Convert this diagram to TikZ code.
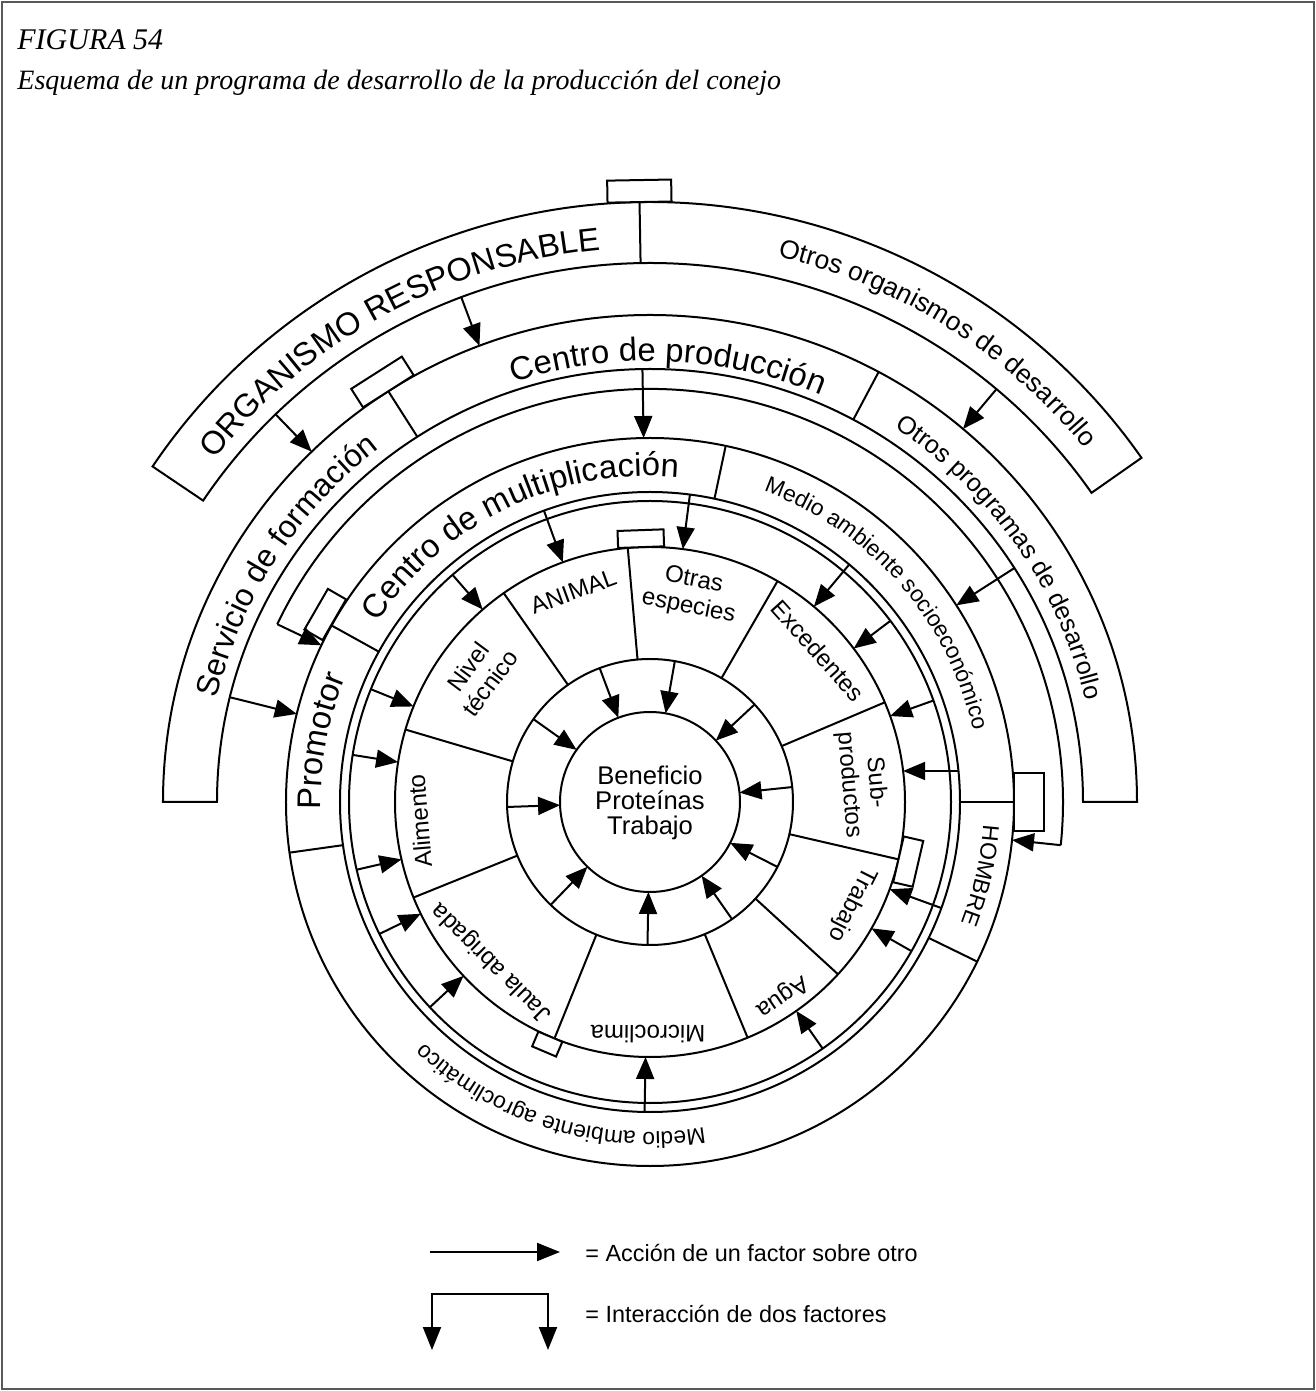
\documentclass[tikz,border=0pt]{standalone}
\usepackage{fontspec}
\setmainfont{Liberation Serif}
\setsansfont{Liberation Sans}
\usetikzlibrary{arrows.meta,decorations.text}
\tikzset{
  ln/.style={line width=1pt,black},
  arr/.style={line width=1pt,-{Triangle[length=11pt,width=9pt]}},
  legarr/.style={line width=1pt,-{Triangle[length=11.5pt,width=9pt]}},
  ibox/.style={draw,line width=1pt,fill=white,inner sep=0pt},
  sect/.style={font=\sffamily\fontsize{12pt}{13.5pt}\selectfont,align=center,inner sep=0pt},
  legtxt/.style={font=\sffamily\fontsize{11.7pt}{12pt}\selectfont,inner sep=0pt},
  frame/.style={line width=0.8pt,black!65}
}
\newcommand{\ringlabel}[5]{%
  \path[decorate,decoration={text along path,text align=center,
    text={|\sffamily\fontsize{#4pt}{#4pt}\selectfont|#5}}]
    ({#1+#2}:#3) arc[start angle={#1+#2},end angle={#1-#2},radius=#3];}
\begin{document}
\begin{tikzpicture}[x=0.5pt,y=0.5pt]
\useasboundingbox (-650,-589) rectangle (666,802);
\draw[frame] (-648,-587) rectangle (664,800);

% title
\node[anchor=base west,font=\itshape\fontsize{15pt}{15pt}\selectfont,inner sep=0pt] (fig) at (-633,752) {FIGURA 54};
\node[anchor=base west,font=\itshape\fontsize{14pt}{14pt}\selectfont,inner sep=0pt] (subt) at (-633,712) {Esquema de un programa de desarrollo de la producción del conejo};

\coordinate (O) at (0,0);
% full circles
\foreach \r in {90,143,255,301,310,364} \draw[ln] (O) circle[radius=\r];
% outer partial rings
\draw[ln] (0:433) arc[start angle=0,end angle=180,radius=433] -- (180:487) arc[start angle=180,end angle=0,radius=487] -- cycle;
\draw[ln] (35:539) arc[start angle=35,end angle=146,radius=539] -- (146:600) arc[start angle=146,end angle=35,radius=600] -- cycle;
% bracket arc
\draw[ln] (154.5:413) arc[start angle=154.5,end angle=-6,radius=413];

% separators
\foreach \a in {163.5,125,95,60,23,-13,-42.5,-67.5,-112,-158} \draw[ln] (\a:143) -- (\a:255);
\foreach \a in {78,151,188,-26,0} \draw[ln] (\a:310) -- (\a:364);
\foreach \a in {62,122.5} \draw[ln] (\a:433) -- (\a:487);
\draw[ln] (91:539) -- (91:600);

% interaction boxes
\node[ibox,minimum width=32pt,minimum height=11pt,rotate=1] (bx1) at (91:611) {};
\node[ibox,minimum width=30pt,minimum height=11pt,rotate=32.5] (bx2) at (122.5:498) {};
\node[ibox,minimum width=23.5pt,minimum height=10.5pt,rotate=60] (bx3) at (150:375) {};
\node[ibox,minimum width=23pt,minimum height=8.5pt,rotate=2] (bx4) at (92:263.5) {};
\node[ibox,minimum width=29pt,minimum height=15pt,rotate=-90] (bx5) at (0:379) {};
\node[ibox,minimum width=23.5pt,minimum height=10pt,rotate=-103] (bx6) at (-13:265) {};
\node[ibox,minimum width=13pt,minimum height=8pt,rotate=-203] (bx7) at (-113:263) {};

% inner ring arrows
\foreach \a [count=\i] in {110.6,80,43,6,-27,-55,-91,-134,-178,144.6} {
  \coordinate (ia\i) at (\a:143);
  \coordinate (ib\i) at (\a:90);
  \draw[arr] (ia\i) -- (ib\i);
}
% other arrows
\foreach \a/\ra/\rb [count=\i] in {
  110/310/255, 82.6/310/255, 50/310/255, -20/310/255, -91/310/255,
  131/301/255, 158/301/255, 171/301/255, -167/301/255, -154/301/255,
  -137/301/255, -55/301/255, -29.7/301/255, 37/301/255, 19.7/301/255,
  91/433/364, 32.7/433/364, 166/433/364,
  110.5/539/487, 134/539/487, 50/539/487,
  154.5/413/364, -6/413/364} {
  \coordinate (oa\i) at (\a:\ra);
  \coordinate (ob\i) at (\a:\rb);
  \draw[arr] (oa\i) -- (ob\i);
}
\coordinate (subA) at (308.4,31);
\coordinate (subB) at (253.1,31);
\draw[arr] (subA) -- (subB);

% center text
\node[font=\sffamily\fontsize{12.8pt}{12.4pt}\selectfont,align=center,inner sep=0pt] (centro) at (0,-1) {Beneficio\\Proteínas\\Trabajo};

% sector texts
\node[sect,rotate=53.4] (tNivel) at (143.4:213) {Nivel\\técnico};
\node[sect,rotate=20] (tAnimal) at (110:224) {ANIMAL};
\node[sect,rotate=-11.2] (tOtras) at (78.8:212) {Otras\\especies};
\node[sect,rotate=-48] (tExc) at (42:226) {Excedentes};
\node[sect,rotate=-85.1] (tSub) at (4.9:213) {Sub-\\productos};
\node[sect,rotate=-116.8] (tTrab) at (-26.8:226) {Trabajo};
\node[sect,rotate=-145.8] (tAgua) at (-55.8:235) {Agua};
\node[sect,rotate=179.5] (tMicro) at (-90.5:232) {Microclima};
\node[sect,rotate=135.4] (tJaula) at (-134.6:225) {Jaula abrigada};
\node[sect,rotate=94.7] (tAlim) at (-175.3:231) {Alimento};

% ring labels
\ringlabel{115.8}{60}{326}{16.4}{Centro de multiplicación}
\ringlabel{169.5}{40}{329}{16.4}{Promotor}
\ringlabel{41.2}{60}{331}{11.4}{Medio ambiente socioeconómico}
\ringlabel{-12.6}{30}{334}{11.5}{HOMBRE}
\ringlabel{-106.8}{60}{330}{11.4}{Medio ambiente agroclimático}
\ringlabel{147}{45}{445}{15.8}{Servicio de formación}
\ringlabel{87.6}{45}{441}{16.4}{Centro de producción}
\ringlabel{35}{45}{447}{12.6}{Otros programas de desarrollo}
\ringlabel{118.5}{45}{554}{16.2}{ORGANISMO RESPONSABLE}
\ringlabel{58}{40}{560}{13.2}{Otros organismos de desarrollo}

% legend
\coordinate (la) at (-220,-450);
\coordinate (lb) at (-90,-450);
\draw[legarr] (la) -- (lb);
\node[legtxt,anchor=west] (l1) at (-65,-451) {= Acción de un factor sobre otro};
\coordinate (lc1) at (-218,-548);
\coordinate (lc2) at (-218,-492);
\coordinate (lc3) at (-102,-492);
\coordinate (lc4) at (-102,-548);
\draw[line width=1pt,{Triangle[length=11.5pt,width=9pt]}-{Triangle[length=11.5pt,width=9pt]}] (lc1) -- (lc2) -- (lc3) -- (lc4);
\node[legtxt,anchor=west] (l2) at (-65,-512) {= Interacción de dos factores};
\end{tikzpicture}
\end{document}
